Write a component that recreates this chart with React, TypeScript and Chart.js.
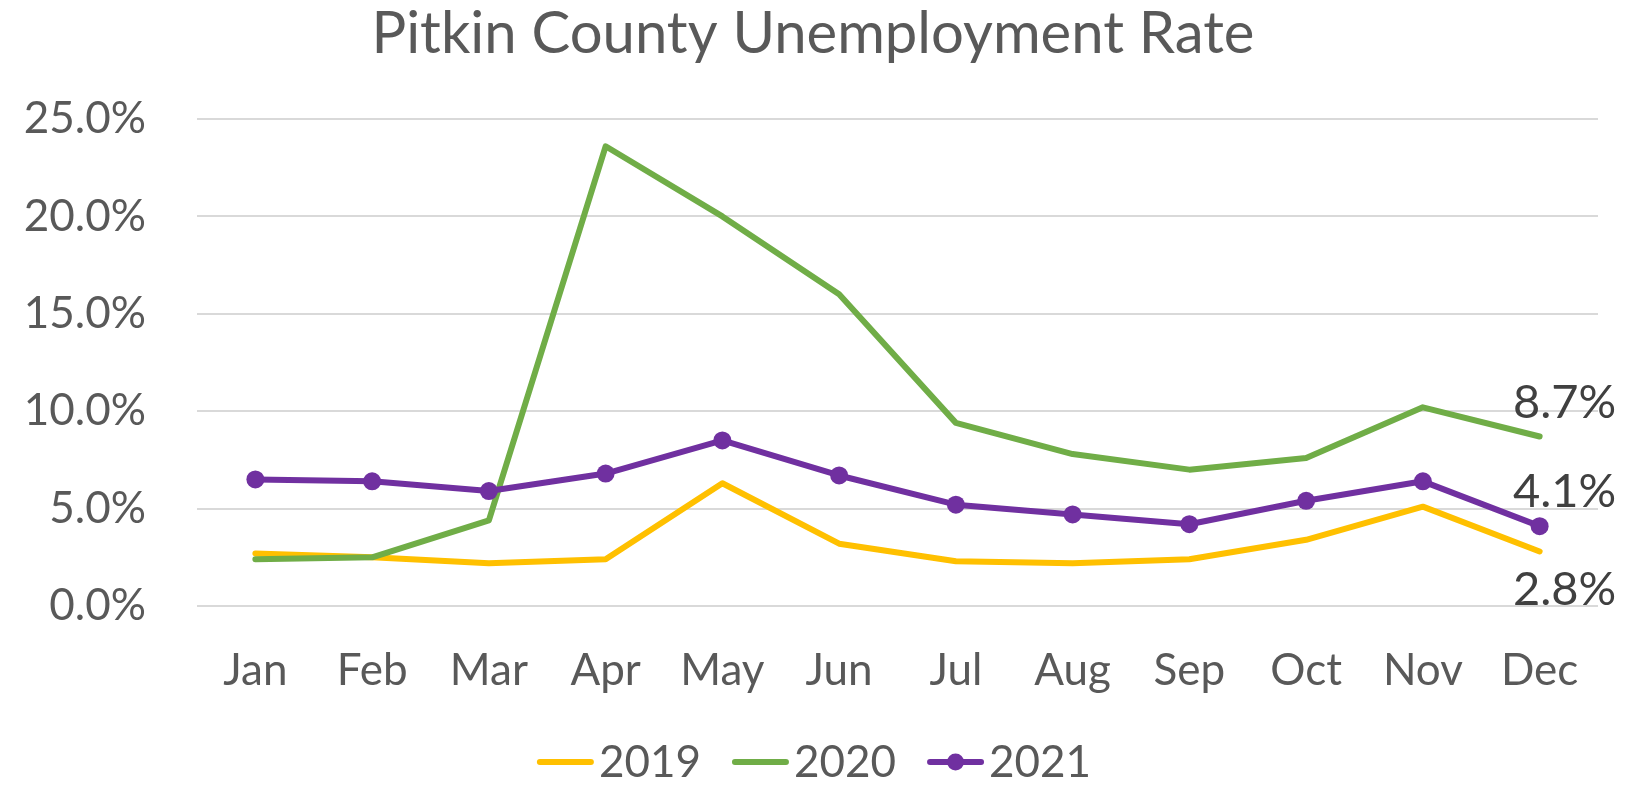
import { useEffect, useRef } from "react";
import { Chart, registerables } from "chart.js";

Chart.register(...registerables);

const TITLE = "Pitkin County Unemployment Rate";
const MONTHS = ["Jan", "Feb", "Mar", "Apr", "May", "Jun", "Jul", "Aug", "Sep", "Oct", "Nov", "Dec"];
const SERIES_NAMES = ["2019", "2020", "2021"];
const RATE_2019 = [2.7, 2.5, 2.2, 2.4, 6.3, 3.2, 2.3, 2.2, 2.4, 3.4, 5.1, 2.8];
const RATE_2020 = [2.4, 2.5, 4.4, 23.6, 20.0, 16.0, 9.4, 7.8, 7.0, 7.6, 10.2, 8.7];
const RATE_2021 = [6.5, 6.4, 5.9, 6.8, 8.5, 6.7, 5.2, 4.7, 4.2, 5.4, 6.4, 4.1];
const Y_MIN = 0;
const Y_MAX = 25;
const Y_STEP = 5;
const END_LABEL_PLACE = ["below", "above", "above"];

const COLORS = ["#FFC000", "#70AD47", "#7030A0"];
const SHOW_MARKERS = [false, false, true];
const FONT = "Lato, 'Open Sans', sans-serif";
const TEXT = "#595959";

const overlayPlugin = {
  id: "overlay",
  afterDatasetsDraw(chart: any) {
    const ctx: CanvasRenderingContext2D = chart.ctx;
    const xs = chart.scales.x;
    const ys = chart.scales.y;
    ctx.save();
    ctx.font = `47px ${FONT}`;
    ctx.fillStyle = "#404040";
    ctx.textAlign = "center";
    ctx.textBaseline = "alphabetic";
    chart.data.datasets.forEach((ds: any, i: number) => {
      const last = ds.data.length - 1;
      const v = ds.data[last];
      const x = xs.getPixelForValue(last) + 25;
      const y = ys.getPixelForValue(v);
      const by = END_LABEL_PLACE[i] === "below" ? y + 54 : y - 19;
      ctx.fillText(v.toFixed(1) + "%", x, by);
    });
    ctx.restore();
  },
  afterDraw(chart: any) {
    const ctx: CanvasRenderingContext2D = chart.ctx;
    ctx.save();
    // title
    ctx.font = `58px ${FONT}`;
    ctx.fillStyle = TEXT;
    ctx.textAlign = "center";
    ctx.textBaseline = "alphabetic";
    ctx.fillText(TITLE, 813, 53);

    // legend
    ctx.font = `44px ${FONT}`;
    const lineLen = 57;
    const textGap = 5;
    const itemGap = 31;
    const widths = SERIES_NAMES.map((n) => lineLen + textGap + ctx.measureText(n).width);
    const total = widths.reduce((a, b) => a + b, 0) + itemGap * (SERIES_NAMES.length - 1);
    let x = 814 - total / 2;
    const ly = 762;
    SERIES_NAMES.forEach((name, i) => {
      ctx.strokeStyle = COLORS[i];
      ctx.lineWidth = 6;
      ctx.lineCap = "round";
      ctx.beginPath();
      ctx.moveTo(x + 3, ly);
      ctx.lineTo(x + lineLen - 3, ly);
      ctx.stroke();
      if (SHOW_MARKERS[i]) {
        ctx.fillStyle = COLORS[i];
        ctx.beginPath();
        ctx.arc(x + lineLen / 2, ly, 8.5, 0, Math.PI * 2);
        ctx.fill();
      }
      ctx.fillStyle = TEXT;
      ctx.textAlign = "left";
      ctx.fillText(name, x + lineLen + textGap, 777);
      x += widths[i] + itemGap;
    });
    ctx.restore();
  },
};

export default function App() {
  const canvasRef = useRef<HTMLCanvasElement | null>(null);

  useEffect(() => {
    document.body.style.margin = "0";
    document.body.style.overflow = "hidden";
    const canvas = canvasRef.current;
    if (!canvas) return;
    const series = [RATE_2019, RATE_2020, RATE_2021];
    const chart = new Chart(canvas, {
      type: "line",
      data: {
        labels: MONTHS,
        datasets: series.map((data, i) => ({
          label: SERIES_NAMES[i],
          data,
          borderColor: COLORS[i],
          backgroundColor: COLORS[i],
          borderWidth: 6,
          borderCapStyle: "round",
          borderJoinStyle: "round",
          pointRadius: SHOW_MARKERS[i] ? 9 : 0,
          pointBorderWidth: 0,
          pointBackgroundColor: COLORS[i],
          tension: 0,
          fill: false,
          order: series.length - 1 - i,
        })) as any,
      },
      options: {
        responsive: false,
        animation: false,
        events: [],
        layout: { padding: { top: 119, right: 42, bottom: 0, left: 0 } },
        plugins: {
          legend: { display: false },
          title: { display: false },
          tooltip: { enabled: false },
        },
        scales: {
          x: {
            offset: true,
            grid: { display: false, drawTicks: false },
            border: { display: false },
            ticks: {
              color: TEXT,
              font: { family: FONT, size: 44 },
              padding: 38,
              autoSkip: false,
              maxRotation: 0,
            },
            afterFit: (s: any) => {
              s.height = 186;
            },
          },
          y: {
            min: Y_MIN,
            max: Y_MAX,
            grid: { color: "#D9D9D9", lineWidth: 2, drawTicks: false },
            border: { display: false },
            ticks: {
              stepSize: Y_STEP,
              color: TEXT,
              font: { family: FONT, size: 44 },
              padding: 51,
              callback: (v: any) => Number(v).toFixed(1) + "%",
            },
            afterFit: (s: any) => {
              s.width = 197;
            },
          },
        },
      },
      plugins: [overlayPlugin],
    });
    return () => chart.destroy();
  }, []);

  return (
    <div style={{ width: 1640, height: 792, background: "#ffffff" }}>
      <canvas ref={canvasRef} width={1640} height={792} />
    </div>
  );
}
